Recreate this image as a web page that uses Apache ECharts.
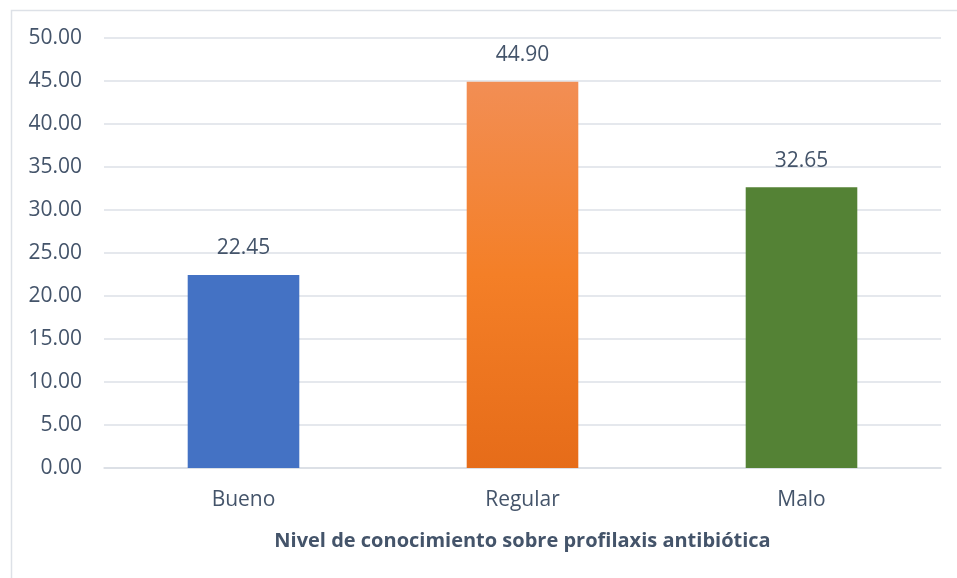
<!DOCTYPE html>
<html>
<head>
<meta charset="utf-8">
<script src="https://cdn.jsdelivr.net/npm/echarts@6/dist/echarts.min.js"></script>
<style>
  html, body { margin: 0; padding: 0; background: #fff; }
  #chart { width: 957px; height: 578px; }
</style>
</head>
<body>
<div id="chart"></div>
<script>
// Knowledge level categories and their percentages
const categories = ['Bueno', 'Regular', 'Malo'];
const percentages = [22.45, 44.90, 32.65];
const axisTitle = 'Nivel de conocimiento sobre profilaxis antibiótica';

const textColor = '#44546A';
const fontFamily = '"Open Sans", "Noto Sans", sans-serif';

const barStyles = [
  { color: '#4472C4' },
  {
    color: {
      type: 'linear', x: 0, y: 0, x2: 0, y2: 1,
      colorStops: [
        { offset: 0, color: '#F28E54' },
        { offset: 0.5, color: '#F47F27' },
        { offset: 1, color: '#E66C19' }
      ]
    }
  },
  { color: '#548235' }
];

const chart = echarts.init(document.getElementById('chart'), null, { renderer: 'canvas' });

chart.setOption({
  animation: false,
  backgroundColor: '#fff',
  textStyle: { fontFamily: fontFamily },
  graphic: [{
    type: 'rect',
    left: 9, top: 8,
    shape: { width: 1000, height: 1000 },
    style: { fill: 'none', stroke: '#DDE1E7', lineWidth: 1.5 },
    silent: true
  }],
  grid: { left: 104, right: 16, top: 38, bottom: 110 },
  xAxis: {
    type: 'category',
    data: categories,
    name: axisTitle,
    nameLocation: 'middle',
    nameGap: 63,
    nameTextStyle: { color: textColor, fontSize: 20, fontWeight: 'bold', fontFamily: fontFamily },
    axisLine: { show: true, lineStyle: { color: '#D9DDE4', width: 1.5 } },
    axisTick: { show: false },
    axisLabel: { color: textColor, fontSize: 21, margin: 22, fontFamily: fontFamily }
  },
  yAxis: {
    type: 'value',
    min: 0, max: 50, interval: 5,
    axisLine: { show: false },
    axisTick: { show: false },
    axisLabel: {
      color: textColor, fontSize: 21, margin: 22, fontFamily: fontFamily,
      formatter: v => v.toFixed(2)
    },
    splitLine: { lineStyle: { color: '#DDE1E7', width: 1.5 } }
  },
  series: [{
    type: 'bar',
    barWidth: '40%',
    data: percentages.map((v, i) => ({ value: v, itemStyle: barStyles[i] })),
    label: {
      show: true,
      position: 'top',
      distance: 16,
      color: textColor,
      fontSize: 21,
      fontFamily: fontFamily,
      formatter: p => p.value.toFixed(2)
    }
  }]
});
</script>
</body>
</html>
